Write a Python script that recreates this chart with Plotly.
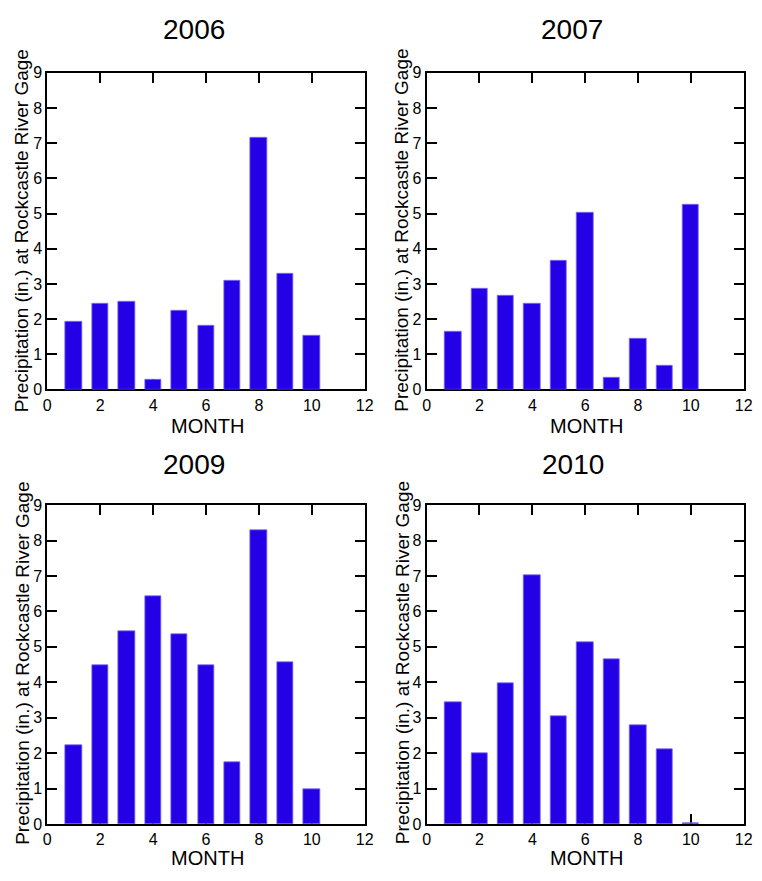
import plotly.graph_objects as go

# Monthly precipitation (inches) at the Rockcastle River gage
months = list(range(1, 11))
years = ["2006", "2007", "2009", "2010"]
precip_2006 = [1.93, 2.44, 2.48, 0.28, 2.25, 1.82, 3.10, 7.15, 3.29, 1.53]
precip_2007 = [1.64, 2.86, 2.67, 2.44, 3.67, 5.03, 0.34, 1.43, 0.67, 5.25]
precip_2009 = [2.23, 4.47, 5.45, 6.42, 5.36, 4.47, 1.75, 8.29, 4.58, 0.99]
precip_2010 = [3.43, 2.00, 3.97, 7.02, 3.03, 5.12, 4.65, 2.79, 2.11, 0.03]
series = [precip_2006, precip_2007, precip_2009, precip_2010]

x_ticks = [0, 2, 4, 6, 8, 10, 12]
y_ticks = [0, 1, 2, 3, 4, 5, 6, 7, 8, 9]
x_label = "MONTH"
y_label = "Precipitation (in.) at Rockcastle River Gage"

W, H = 762, 881
BAR_COLOR = "#2300e6"
EDGE_COLOR = "#7b6cf5"
NARROW = "Liberation Sans Narrow, Arial Narrow, Liberation Sans, Arial, sans-serif"
SANS = "Liberation Sans, Arial, sans-serif"


def px(x):
    return x / W


def py(y):
    return 1 - y / H


# plot-area boxes in pixels: (left, right, top, bottom)
boxes = [(44, 367, 66, 389), (430, 752.5, 66, 389),
         (44, 367, 507, 832), (430, 752.5, 507, 832)]
# centres of title, x-label and y-label per panel, in pixels
title_pos = [(193, 22), (578, 22), (193, 465), (579, 465)]
xlab_pos = [(207, 426), (593, 426), (207, 867), (593, 867)]
ylab_pos = [(18, 227), (405, 227), (18, 668), (405, 668)]

fig = go.Figure()
layout = {}
annotations = []

for i, (year, vals) in enumerate(zip(years, series)):
    n = "" if i == 0 else str(i + 1)
    fig.add_trace(go.Bar(
        x=months, y=vals, width=0.62,
        marker=dict(color=BAR_COLOR, line=dict(color=EDGE_COLOR, width=0.8)),
        xaxis="x" + n, yaxis="y" + n, showlegend=False,
    ))
    l, r, t, b = boxes[i]
    axis_common = dict(
        showline=True, linecolor="black", linewidth=2,
        mirror="ticks", ticks="inside", ticklen=10, tickwidth=2,
        tickcolor="black", showgrid=False, zeroline=False,
        layer="below traces",
        tickfont=dict(family=SANS, size=16, color="black"),
    )
    layout["xaxis" + n] = dict(
        axis_common, domain=[px(l), px(r)], range=[0, 12],
        tickmode="array", tickvals=x_ticks,
        anchor="y" + n,
    )
    layout["yaxis" + n] = dict(
        axis_common, domain=[py(b), py(t)], range=[0, 9],
        tickmode="array", tickvals=y_ticks,
        anchor="x" + n,
    )
    tx, ty = title_pos[i]
    annotations.append(dict(
        text=year, x=px(tx), y=py(ty), xref="paper", yref="paper",
        showarrow=False, xanchor="center", yanchor="middle",
        font=dict(family=NARROW, size=28, color="black"),
    ))
    mx, my = xlab_pos[i]
    annotations.append(dict(
        text=x_label, x=px(mx), y=py(my), xref="paper", yref="paper",
        showarrow=False, xanchor="center", yanchor="middle",
        font=dict(family=NARROW, size=20, color="black"),
    ))
    lx, ly = ylab_pos[i]
    annotations.append(dict(
        text=y_label, x=px(lx), y=py(ly), xref="paper", yref="paper",
        showarrow=False, xanchor="center", yanchor="middle", textangle=-90,
        font=dict(family=SANS, size=19, color="black"),
    ))

fig.update_layout(
    **layout,
    annotations=annotations,
    width=W, height=H,
    margin=dict(l=0, r=0, t=0, b=0),
    paper_bgcolor="white", plot_bgcolor="white",
    bargap=0,
)

fig.write_html("out.html")
